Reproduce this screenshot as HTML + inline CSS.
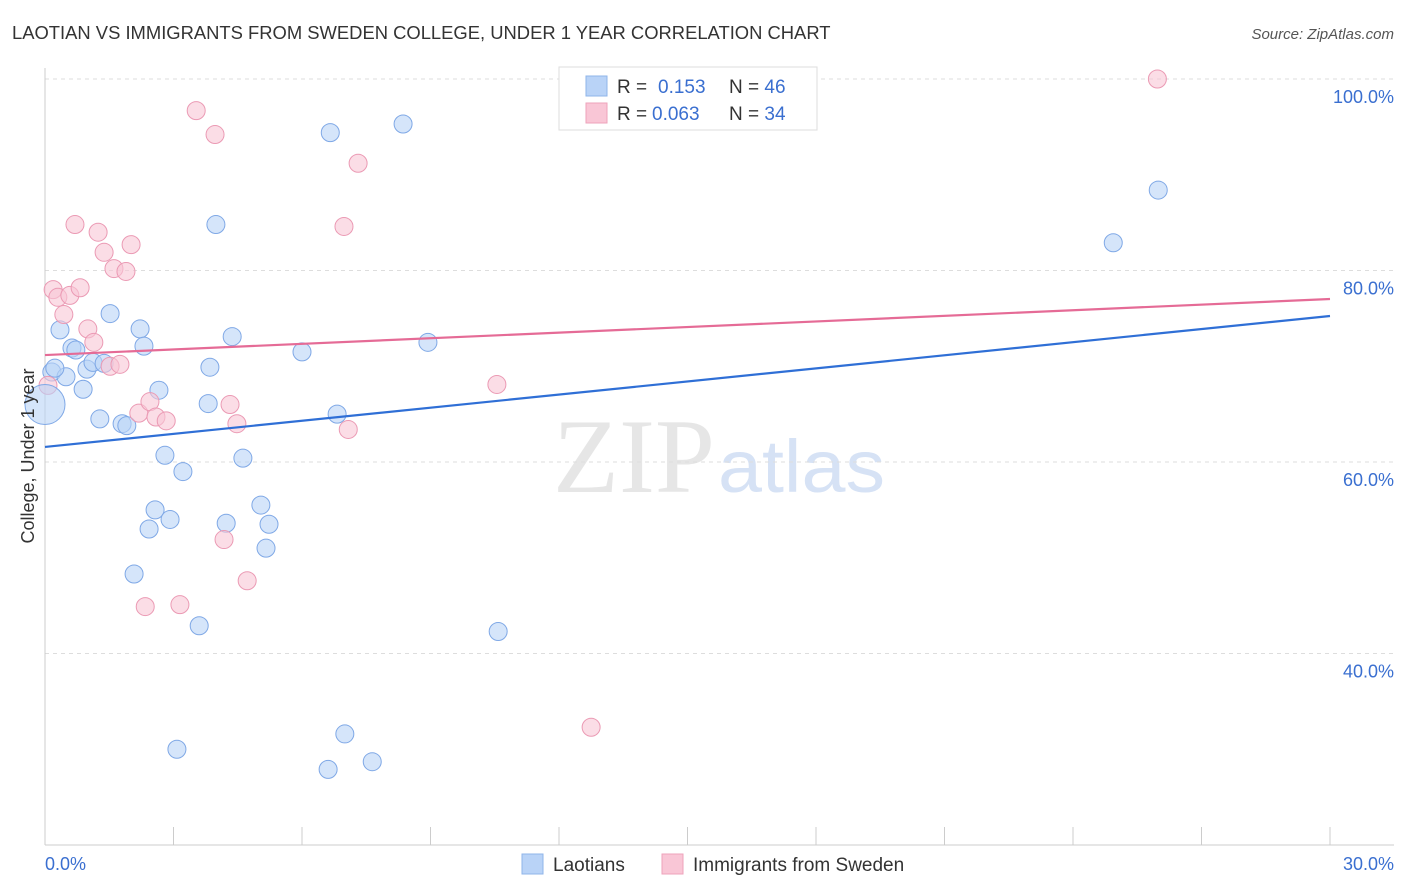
<!DOCTYPE html>
<html><head><meta charset="utf-8">
<style>
body{margin:0;background:#fff;font-family:"Liberation Sans",sans-serif;}
svg{display:block}
</style></head>
<body>
<svg id="chart" width="1406" height="892">
<text x="12" y="39" font-size="18.4" fill="#333">LAOTIAN VS IMMIGRANTS FROM SWEDEN COLLEGE, UNDER 1 YEAR CORRELATION CHART</text>
<text x="1394" y="39" font-size="15" fill="#555" font-style="italic" text-anchor="end">Source: ZipAtlas.com</text>
<text x="553" y="492" font-size="106" fill="#e6e6e6" font-family="Liberation Serif,serif" textLength="162" lengthAdjust="spacingAndGlyphs">ZIP</text>
<text x="718" y="492" font-size="74" fill="#d6e2f5" textLength="167" lengthAdjust="spacingAndGlyphs">atlas</text>
<g id="grid"></g>
<g id="marks"></g>
<text transform="translate(34,456) rotate(-90)" font-size="18" fill="#333" text-anchor="middle">College, Under 1 year</text>
<text x="45" y="870" font-size="18" fill="#3a6fd0">0.0%</text>
<text x="1394" y="870" font-size="18" fill="#3a6fd0" text-anchor="end">30.0%</text>
<g>
<rect x="559" y="67" width="258" height="63" fill="#fff" stroke="#ddd"/>
<rect x="586" y="76" width="21" height="20" fill="#b9d3f7" stroke="#8fb4ea"/>
<rect x="586" y="103" width="21" height="20" fill="#f9c6d6" stroke="#eea3bb"/>
<text x="617" y="93" font-size="19" fill="#333">R = </text>
<text x="658" y="93" font-size="19" fill="#3a6fd0">0.153</text>
<text x="729" y="93" font-size="19" fill="#333">N = <tspan fill="#3a6fd0">46</tspan></text>
<text x="617" y="120" font-size="19" fill="#333">R = </text>
<text x="652" y="120" font-size="19" fill="#3a6fd0">0.063</text>
<text x="729" y="120" font-size="19" fill="#333">N = <tspan fill="#3a6fd0">34</tspan></text>
</g>
<g>
<rect x="522" y="854" width="21" height="20" fill="#b9d3f7" stroke="#8fb4ea"/>
<text x="553" y="871" font-size="19" fill="#333">Laotians</text>
<rect x="662" y="854" width="21" height="20" fill="#f9c6d6" stroke="#eea3bb"/>
<text x="693" y="871" font-size="19" fill="#333">Immigrants from Sweden</text>
</g>
</svg>
<script>
const yTicks=[40,60,80,100];
const xTicks=[0,3,6,9,12,15,18,21,24,27,30];
const blueX=[0.16,0.35,0.49,0.63,0.72,0.89,0.98,1.12,1.28,1.38,1.52,1.80,1.91,2.08,2.22,2.31,2.43,2.57,2.66,2.80,2.92,3.08,3.22,3.60,3.81,3.85,3.99,4.23,4.37,4.62,5.04,5.16,5.23,6.00,6.61,6.66,6.82,7.00,7.64,8.36,8.94,10.58,24.94,25.99,0.23];
const blueY=[69.4,73.8,68.9,71.9,71.7,67.6,69.7,70.4,64.5,70.3,75.5,64.0,63.8,48.3,73.9,72.1,53.0,55.0,67.5,60.7,54.0,30.0,59.0,42.9,66.1,69.9,84.8,53.6,73.1,60.4,55.5,51.0,53.5,71.5,27.9,94.4,65.0,31.6,28.7,95.3,72.5,42.3,82.9,88.4,69.8];
const pinkX=[0.07,0.19,0.30,0.44,0.58,0.70,0.82,1.00,1.14,1.24,1.38,1.52,1.61,1.75,1.89,2.01,2.19,2.34,2.45,2.59,2.83,3.15,3.53,3.97,4.18,4.32,4.48,4.72,6.98,7.08,7.31,10.55,12.75,25.97];
const pinkY=[68.0,78.0,77.2,75.4,77.4,84.8,78.2,73.9,72.5,84.0,81.9,70.0,80.2,70.2,79.9,82.7,65.1,44.9,66.3,64.7,64.3,45.1,96.7,94.2,51.9,66.0,64.0,47.6,84.6,63.4,91.2,68.1,32.3,100.0];
const blueTrend=[61.57,75.25];
const pinkTrend=[71.17,77.02];
const NS="http://www.w3.org/2000/svg";
const sx=v=>45+v/30*1285;
const sy=v=>79+(100-v)*9.575;
function mk(tag,attrs,parent){const e=document.createElementNS(NS,tag);for(const k in attrs)e.setAttribute(k,attrs[k]);parent.appendChild(e);return e;}
const grid=document.getElementById('grid'),marks=document.getElementById('marks');
yTicks.forEach(t=>{
 const l=mk('line',{x1:45,x2:1394,y1:sy(t),y2:sy(t),stroke:'#ddd','stroke-dasharray':'4,4'},grid);
 
 
 const tx=mk('text',{x:1394,y:sy(t)+24,'font-size':18,fill:'#3a6fd0','text-anchor':'end'},grid);
 tx.textContent=t.toFixed(1)+'%';
 
 
});
const ax=mk('line',{x1:45,x2:1394,y1:845,y2:845,stroke:'#ccc'},grid);


const ay=mk('line',{x1:45,x2:45,y1:68,y2:845,stroke:'#ccc'},grid);


xTicks.forEach(t=>{
 const l=mk('line',{x1:sx(t),x2:sx(t),y1:827,y2:845,stroke:'#ccc'},grid);
 
 
});
function pts(X,Y,fill,stroke,name){X.forEach((x,i)=>{
 const c=mk('circle',{cx:sx(x),cy:sy(Y[i]),r:9,fill:fill,'fill-opacity':0.6,stroke:stroke,'stroke-width':1},marks);
 
 
});}
pts(blueX,blueY,'#b9d3f7','#7fa8e6','laotians-point');
pts(pinkX,pinkY,'#f9c6d6','#eb9ab4','sweden-point');
const big=mk('circle',{cx:sx(0),cy:sy(66),r:20,fill:'#b9d3f7','fill-opacity':0.6,stroke:'#7fa8e6'},marks);


const bl=mk('line',{x1:sx(0),y1:sy(blueTrend[0]),x2:sx(30),y2:sy(blueTrend[1]),stroke:'#2f6fd6','stroke-width':2.2},marks);


const pl=mk('line',{x1:sx(0),y1:sy(pinkTrend[0]),x2:sx(30),y2:sy(pinkTrend[1]),stroke:'#e56b96','stroke-width':2.2},marks);


</script>
</body></html>
